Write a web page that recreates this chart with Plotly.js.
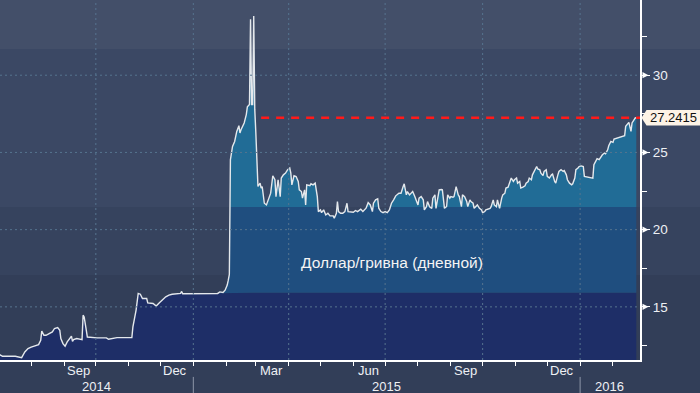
<!DOCTYPE html>
<html>
<head>
<meta charset="utf-8">
<script src="https://cdn.plot.ly/plotly-3.0.1.min.js"></script>
<style>html,body{margin:0;padding:0;background:#323e58;}#chart{width:700px;height:393px;}</style>
</head>
<body>
<div id="chart"></div>
<script>
// USD/UAH daily
const dates = [
'2014-07-01','2014-07-05','2014-07-17','2014-07-23','2014-07-26','2014-07-29','2014-08-01','2014-08-06','2014-08-08','2014-08-10',
'2014-08-11','2014-08-13','2014-08-15','2014-08-18','2014-08-21','2014-08-23','2014-08-26','2014-08-28','2014-08-29','2014-08-31',
'2014-09-02','2014-09-04','2014-09-06','2014-09-08','2014-09-09','2014-09-10','2014-09-13','2014-09-18','2014-09-19','2014-09-20',
'2014-09-22','2014-09-23','2014-10-02','2014-10-11','2014-10-13','2014-10-19','2014-10-21','2014-11-04','2014-11-05','2014-11-08',
'2014-11-09','2014-11-10','2014-11-12','2014-11-14','2014-11-18','2014-11-19','2014-11-24','2014-11-27','2014-11-30','2014-12-03',
'2014-12-06','2014-12-09','2014-12-12','2014-12-20','2014-12-21','2014-12-22','2015-01-04','2015-01-24','2015-01-26','2015-01-29',
'2015-01-31','2015-02-02','2015-02-03','2015-02-04','2015-02-05','2015-02-06','2015-02-07','2015-02-09','2015-02-11','2015-02-13',
'2015-02-14','2015-02-15','2015-02-18','2015-02-20','2015-02-21','2015-02-23','2015-02-24','2015-02-25','2015-02-26','2015-02-27',
'2015-02-28','2015-03-01','2015-03-03','2015-03-05','2015-03-06','2015-03-07','2015-03-09','2015-03-11','2015-03-13','2015-03-15',
'2015-03-17','2015-03-19','2015-03-20','2015-03-22','2015-03-24','2015-03-25','2015-03-27','2015-03-29','2015-03-31','2015-04-02',
'2015-04-03','2015-04-04','2015-04-06','2015-04-08','2015-04-10','2015-04-11','2015-04-13','2015-04-14','2015-04-16','2015-04-17',
'2015-04-18','2015-04-21','2015-04-22','2015-04-24','2015-04-26','2015-04-28','2015-04-29','2015-05-01','2015-05-02','2015-05-04',
'2015-05-06','2015-05-08','2015-05-10','2015-05-13','2015-05-14','2015-05-16','2015-05-17','2015-05-18','2015-05-20','2015-05-22',
'2015-05-24','2015-05-26','2015-05-27','2015-05-30','2015-06-01','2015-06-03','2015-06-05','2015-06-08','2015-06-10','2015-06-13',
'2015-06-15','2015-06-17','2015-06-19','2015-06-20','2015-06-22','2015-06-24','2015-06-25','2015-06-27','2015-06-29','2015-07-01',
'2015-07-03','2015-07-05','2015-07-07','2015-07-09','2015-07-11','2015-07-14','2015-07-16','2015-07-18','2015-07-19','2015-07-21',
'2015-07-22','2015-07-24','2015-07-26','2015-07-27','2015-07-29','2015-07-30','2015-08-01','2015-08-02','2015-08-04','2015-08-06',
'2015-08-07','2015-08-09','2015-08-10','2015-08-12','2015-08-14','2015-08-15','2015-08-17','2015-08-18','2015-08-20','2015-08-21',
'2015-08-23','2015-08-24','2015-08-26','2015-08-28','2015-08-29','2015-08-31','2015-09-01','2015-09-03','2015-09-04','2015-09-06',
'2015-09-08','2015-09-09','2015-09-11','2015-09-12','2015-09-14','2015-09-16','2015-09-17','2015-09-19','2015-09-20','2015-09-22',
'2015-09-23','2015-09-25','2015-09-26','2015-09-28','2015-09-30','2015-10-01','2015-10-03','2015-10-04','2015-10-08','2015-10-09',
'2015-10-11','2015-10-12','2015-10-14','2015-10-15','2015-10-17','2015-10-19','2015-10-20','2015-10-22','2015-10-23','2015-10-25',
'2015-10-26','2015-10-28','2015-10-30','2015-10-31','2015-11-02','2015-11-03','2015-11-05','2015-11-06','2015-11-08','2015-11-10',
'2015-11-11','2015-11-13','2015-11-14','2015-11-16','2015-11-17','2015-11-19','2015-11-21','2015-11-22','2015-11-24','2015-11-25',
'2015-11-27','2015-11-28','2015-11-30','2015-12-01','2015-12-03','2015-12-05','2015-12-06','2015-12-08','2015-12-09','2015-12-11',
'2015-12-12','2015-12-14','2015-12-16','2015-12-17','2015-12-19','2015-12-20','2015-12-22','2015-12-24','2015-12-25','2015-12-27',
'2015-12-28','2015-12-30','2015-12-31','2016-01-02','2016-01-04','2016-01-05','2016-01-08','2016-01-11','2016-01-13','2016-01-14',
'2016-01-16','2016-01-17','2016-01-19','2016-01-21','2016-01-22','2016-01-24','2016-01-25','2016-01-27','2016-01-28','2016-01-30',
'2016-02-01','2016-02-02','2016-02-05','2016-02-09','2016-02-10','2016-02-12','2016-02-13','2016-02-15','2016-02-16','2016-02-18',
'2016-02-19','2016-02-21','2016-02-22','2016-02-23'
];
const usdUah = [
11.95,11.80,11.80,11.71,12.08,12.30,12.40,12.51,12.56,12.84,
13.44,13.16,13.16,13.27,13.38,13.60,13.66,13.49,12.95,12.62,
12.45,12.73,12.88,13.10,12.77,12.88,12.95,12.88,14.46,14.35,
13.49,13.05,12.99,12.99,12.90,12.95,13.01,13.01,13.70,14.79,
15.22,15.87,15.82,15.54,15.54,15.26,15.22,15.05,15.26,15.44,
15.65,15.76,15.82,15.87,16.00,15.85,15.87,15.87,15.97,15.93,
16.08,16.41,16.73,17.10,24.53,25.07,25.39,25.71,26.36,26.73,
26.26,26.47,26.91,27.45,27.95,28.10,33.62,28.10,28.10,33.83,
27.77,26.26,22.80,23.01,22.69,22.79,21.71,21.60,21.93,22.36,
23.49,23.23,22.14,23.23,22.14,23.34,23.55,23.66,23.88,23.99,
23.66,22.90,23.49,23.44,23.12,22.58,22.47,22.04,22.58,21.60,
22.90,22.84,22.97,22.90,23.01,22.14,21.17,21.28,21.10,21.28,
20.95,21.06,20.89,20.89,20.74,21.06,21.82,21.17,21.06,21.06,
21.17,21.71,21.17,21.17,21.13,21.24,21.17,21.32,21.17,21.39,
21.75,21.60,21.17,21.71,21.93,22.00,21.39,21.17,21.10,21.17,
21.10,21.28,21.71,21.93,22.19,22.36,22.36,22.79,22.97,22.25,
22.47,22.25,22.36,22.47,22.14,21.93,21.60,22.04,22.14,21.93,
21.28,21.49,21.82,21.48,21.38,22.04,22.25,21.38,22.36,22.58,
22.60,22.58,21.38,21.50,22.25,22.04,22.14,22.10,22.14,22.79,
22.25,22.14,21.49,22.25,22.14,21.82,21.49,21.93,21.82,21.71,
21.38,21.54,21.60,21.38,21.28,21.10,21.17,21.28,21.38,21.49,
21.93,21.60,21.49,21.93,21.38,22.04,22.25,22.36,22.69,22.75,
23.01,23.34,23.12,23.23,23.34,23.01,23.12,22.69,22.75,22.84,
23.01,23.12,23.34,23.23,23.55,23.88,24.09,23.93,23.88,23.66,
23.50,23.77,23.88,23.45,23.34,23.55,23.60,23.12,23.01,23.55,
23.77,23.88,23.77,23.82,23.55,23.23,23.01,22.90,22.97,23.34,
23.88,23.99,24.09,24.13,24.09,23.45,23.40,23.34,23.34,24.20,
24.53,24.60,24.53,24.79,24.85,24.96,24.92,25.17,25.43,25.71,
25.65,25.87,25.93,26.00,26.00,26.08,26.69,26.91,26.95,26.36,
26.91,27.12,27.23,27.2415
];
const lastValue = 27.2415;
const lastLabel = '27.2415';
const refLineStart = '2015-03-06';
const seriesLabel = 'Доллар/гривна (дневной)';

const xRange = ['2014-07-02 14:00', '2016-02-26 12:00'];
const yRange = [11.56, 34.87];
const yMajor = [15, 20, 25, 30];
const yMinor = [12.5, 17.5, 22.5, 27.5, 32.5];
const monthTicks = ['2014-08-01','2014-09-01','2014-10-01','2014-11-01','2014-12-01','2015-01-01','2015-02-01','2015-03-01',
  '2015-04-01','2015-05-01','2015-06-01','2015-07-01','2015-08-01','2015-09-01','2015-10-01','2015-11-01','2015-12-01',
  '2016-01-01','2016-02-01'];
const quarterGrid = ['2014-10-01','2015-01-01','2015-04-01','2015-07-01','2015-10-01','2016-01-01'];
const monthLabels = ['Sep','Dec','Mar','Jun','Sep','Dec'];
const monthLabelPos = ['2014-09-15','2014-12-15','2015-03-16','2015-06-15','2015-09-15','2015-12-15'];
const yearLabels = ['2014','2015','2016'];
const yearLabelPos = ['2014-10-02','2015-07-02','2016-01-29'];
const yearBreaks = ['2015-01-01','2016-01-01'];

// colour band levels of the area fill
const navyTop = 15.92;
const midTop = 21.47;

const FONT = '"Liberation Sans", Arial, sans-serif';
const textCol = '#eef0f4';

const navyY = usdUah.map(v => Math.min(v, navyTop));
const midY = usdUah.map(v => Math.min(v, midTop));

const traces = [
  {x: dates, y: navyY, type: 'scatter', mode: 'lines', line: {width: 0}, fill: 'tozeroy', fillcolor: '#1e2e67', hoverinfo: 'skip'},
  {x: dates, y: midY, type: 'scatter', mode: 'lines', line: {width: 0}, fill: 'tonexty', fillcolor: '#1f4e7f', hoverinfo: 'skip'},
  {x: dates, y: usdUah, type: 'scatter', mode: 'lines', line: {width: 0}, fill: 'tonexty', fillcolor: '#216c96', hoverinfo: 'skip'},
  {x: dates, y: usdUah, type: 'scatter', mode: 'lines', line: {width: 1.4, color: '#e4e8ec'}}
];

const shapes = [];
// background bands
const bands = [[0.8639, 1, '#434f69'], [0.425, 0.8639, '#3b4864'], [0.2361, 0.425, '#36435e']];
bands.forEach(b => shapes.push({type: 'rect', xref: 'paper', yref: 'paper', x0: 0, x1: 1.1, y0: b[0], y1: b[1],
  fillcolor: b[2], line: {width: 0}, layer: 'below'}));
// grid
const gridCol = '#56748f';
yMajor.forEach(t => shapes.push({type: 'line', xref: 'paper', yref: 'y', x0: 0, x1: 1, y0: t, y1: t,
  line: {color: gridCol, width: 1, dash: '2px,3px'}, layer: 'above'}));
quarterGrid.forEach(d => shapes.push({type: 'line', xref: 'x', yref: 'paper', x0: d, x1: d, y0: 0, y1: 1,
  line: {color: gridCol, width: 1, dash: '2px,3px'}, layer: 'above'}));
// reference line at last value
shapes.push({type: 'line', xref: 'x', yref: 'y', x0: refLineStart, x1: xRange[1], y0: lastValue, y1: lastValue,
  line: {color: '#ff1a1a', width: 2.5, dash: '8px,7px'}, layer: 'above'});
// triangles at major y ticks
yMajor.forEach(t => shapes.push({type: 'path', xref: 'paper', yref: 'y',
  path: `M 1.0039,${t + 0.2} L 1.0133,${t} L 1.0039,${t - 0.2} Z`, fillcolor: '#ffffff', line: {width: 0}, layer: 'above'}));
// last value tag
shapes.push({type: 'path', xref: 'paper', yref: 'y',
  path: `M 1.0023,${lastValue} L 1.0102,${lastValue + 0.5} L 1.1,${lastValue + 0.5} L 1.1,${lastValue - 0.5} L 1.0102,${lastValue - 0.5} Z`,
  fillcolor: '#fdf3e6', line: {width: 0}, layer: 'above'});
// year separators
yearBreaks.forEach(d => shapes.push({type: 'line', xref: 'x', yref: 'paper', x0: d, x1: d, y0: -0.047, y1: -0.095,
  line: {color: '#8d96a8', width: 1}, layer: 'above'}));

const annotations = [];
monthLabels.forEach((m, i) => annotations.push({xref: 'x', yref: 'paper', x: monthLabelPos[i], y: -0.0297,
  text: m, showarrow: false, xanchor: 'center', yanchor: 'middle', font: {family: FONT, size: 13, color: textCol}}));
yearLabels.forEach((m, i) => annotations.push({xref: 'x', yref: 'paper', x: yearLabelPos[i], y: -0.073,
  text: m, showarrow: false, xanchor: 'center', yanchor: 'middle', font: {family: FONT, size: 13, color: textCol}}));
annotations.push({xref: 'paper', yref: 'y', x: 1.0125, y: lastValue, text: lastLabel, showarrow: false,
  xanchor: 'left', yanchor: 'middle', font: {family: FONT, size: 13, color: '#111111'}});
annotations.push({xref: 'paper', yref: 'paper', x: 0.6125, y: 0.272, text: seriesLabel, showarrow: false,
  xanchor: 'center', yanchor: 'middle', font: {family: FONT, size: 15.5, color: '#f4f4f4'}});

const layout = {
  width: 700, height: 393,
  margin: {l: 0, r: 60, t: 0, b: 33, pad: 0},
  paper_bgcolor: '#323e58', plot_bgcolor: 'rgba(0,0,0,0)',
  showlegend: false,
  xaxis: {type: 'date', range: xRange, tickmode: 'array', tickvals: monthTicks, ticktext: monthTicks.map(() => ''),
    ticks: 'outside', ticklen: 4, tickwidth: 1, tickcolor: '#ffffff', showline: true, linecolor: '#ffffff', linewidth: 2,
    showgrid: false, zeroline: false, fixedrange: true},
  yaxis: {side: 'right', range: yRange, tickmode: 'array', tickvals: yMajor, ticktext: yMajor.map(String),
    ticks: 'outside', ticklen: 8, tickwidth: 1, tickcolor: '#ffffff', showline: true, linecolor: '#ffffff', linewidth: 2,
    showgrid: false, zeroline: false, fixedrange: true,
    tickfont: {family: FONT, size: 13.5, color: textCol},
    minor: {tickmode: 'array', tickvals: yMinor, ticks: 'outside', ticklen: 5, tickwidth: 1, tickcolor: '#ffffff', showgrid: false}},
  shapes: shapes,
  annotations: annotations
};

Plotly.newPlot('chart', traces, layout, {staticPlot: true, displayModeBar: false});
</script>
</body>
</html>
